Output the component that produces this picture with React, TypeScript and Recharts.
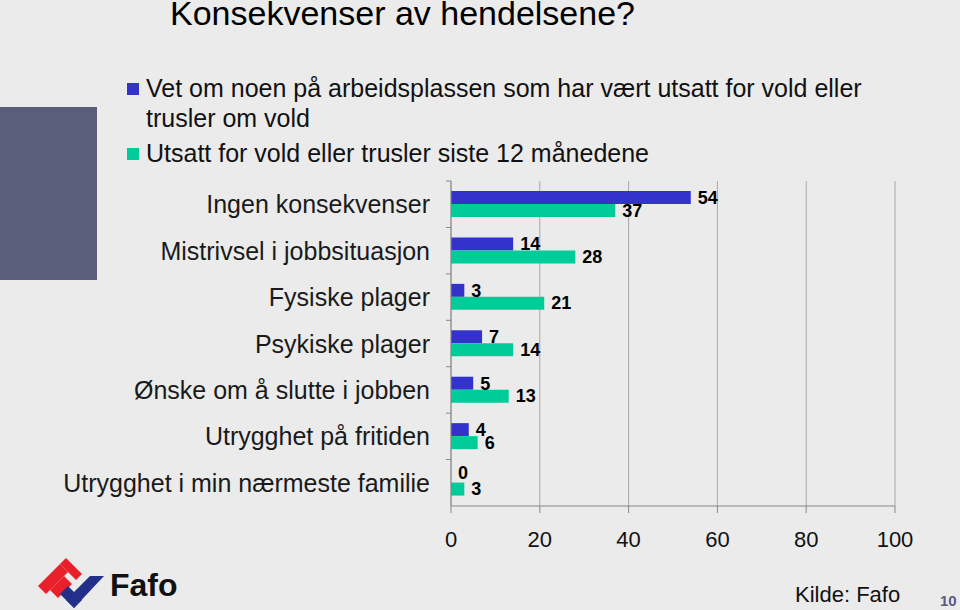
import { BarChart, Bar, XAxis, YAxis, CartesianGrid, LabelList } from 'recharts'

const categories = [
    'Ingen konsekvenser',
    'Mistrivsel i jobbsituasjon',
    'Fysiske plager',
    'Psykiske plager',
    'Ønske om å slutte i jobben',
    'Utrygghet på fritiden',
    'Utrygghet i min nærmeste familie',
]
const kjennerNoen = [54, 14, 3, 7, 5, 4, 0]
const utsattSelv = [37, 28, 21, 14, 13, 6, 3]
const xTicks = [0, 20, 40, 60, 80, 100]

const data = categories.map((name, i) => ({ name, kjenner: kjennerNoen[i], utsatt: utsattSelv[i] }))

const FONT = '"Liberation Sans", Arial, sans-serif'
const BLUE = '#3333cc'
const GREEN = '#00cc99'
const BG = '#ebebeb'

// plot box in page pixels
const PLOT_TOP = 181
const PLOT_BOTTOM = 506
const BAND = (PLOT_BOTTOM - PLOT_TOP) / categories.length
const BAR = 13

const CategoryTick = ({ x, y, payload }: any) => (
    <g>
        <line x1={451} x2={446} y1={y - BAND / 2} y2={y - BAND / 2} stroke="#888" />
        <text x={x} y={y} textAnchor="end" dominantBaseline="central" fontSize={25} fill="#1a1a1a" fontFamily={FONT}>
            {payload.value}
        </text>
    </g>
)

const labelStyle = { fontSize: 18, fontWeight: 'bold', fill: '#000', fontFamily: FONT }

// green labels; also puts the blue label when the blue bar is zero (recharts drops it)
const GreenLabel = (props: any) => {
    const { x, y, width, height, value, index } = props
    const blue = kjennerNoen[index]
    return (
        <g>
            <text x={x + width + 7} y={y + height / 2} dominantBaseline="central" {...labelStyle}>{value}</text>
            {blue === 0 && (
                <text x={x + 7} y={y - BAR / 2 - 3} dominantBaseline="central" {...labelStyle}>{blue}</text>
            )}
        </g>
    )
}

const Logo = () => (
    <svg width={160} height={52} style={{ position: 'absolute', left: 36, top: 558 }}>
        <polygon points="2,28 24,6 32,14 10,36" fill="#e8202a" />
        <polygon points="24,6 30,0 46,16 40,22" fill="#e8202a" />
        <polygon points="14,32 28,18 36,26 22,40" fill="#e8202a" />
        <polygon points="30,42 54,18 68,18 38,50" fill="#22308a" />
        <polygon points="24,36 32,28 46,42 38,50" fill="#22308a" />
        <text x={74} y={38} fontSize={32} fontWeight="bold" fontFamily={FONT} fill="#111">Fafo</text>
    </svg>
)

export default function App() {
    return (
        <div style={{ position: 'fixed', left: 0, top: 0, width: 960, height: 610, background: BG, overflow: 'hidden', fontFamily: FONT }}>
            <div style={{ position: 'absolute', left: 0, top: 107, width: 97, height: 173, background: '#5a5e7a' }} />
            <div style={{ position: 'absolute', left: 170, top: -6, fontSize: 34, color: '#000', whiteSpace: 'nowrap' }}>
                Konsekvenser av hendelsene?
            </div>
            <div style={{ position: 'absolute', left: 127, top: 73, fontSize: 25, color: '#111', lineHeight: '30px', whiteSpace: 'nowrap' }}>
                <div style={{ position: 'relative', paddingLeft: 19 }}>
                    <span style={{ position: 'absolute', left: 0, top: 10, width: 12, height: 12, background: BLUE }} />
                    Vet om noen på arbeidsplassen som har vært utsatt for vold eller
                    <br />
                    trusler om vold
                </div>
                <div style={{ position: 'relative', paddingLeft: 19, marginTop: 5 }}>
                    <span style={{ position: 'absolute', left: 0, top: 10, width: 12, height: 12, background: GREEN }} />
                    Utsatt for vold eller trusler siste 12 månedene
                </div>
            </div>
            <div style={{ position: 'absolute', left: 0, top: 0 }}>
                <BarChart
                    width={960}
                    height={610}
                    data={data}
                    layout="vertical"
                    barSize={BAR}
                    barGap={0}
                    margin={{ top: PLOT_TOP, right: 65, left: 0, bottom: 610 - PLOT_BOTTOM - 50 }}
                >
                    <CartesianGrid horizontal={false} stroke="#a8a8a8" />
                    <XAxis
                        type="number"
                        domain={[0, 100]}
                        ticks={xTicks}
                        height={50}
                        stroke="#888"
                        tickSize={7}
                        tickMargin={18}
                        tick={{ fontSize: 22, fill: '#111', fontFamily: FONT }}
                    />
                    <YAxis
                        type="category"
                        dataKey="name"
                        width={451}
                        stroke="#888"
                        tickLine={false}
                        tickSize={0}
                        tickMargin={21}
                        tick={<CategoryTick />}
                        interval={0}
                    />
                    <Bar dataKey="kjenner" fill={BLUE} isAnimationActive={false}>
                        <LabelList dataKey="kjenner" position="right" offset={7} {...labelStyle} />
                    </Bar>
                    <Bar dataKey="utsatt" fill={GREEN} isAnimationActive={false}>
                        <LabelList dataKey="utsatt" content={<GreenLabel />} />
                    </Bar>
                </BarChart>
            </div>
            <Logo />
            <div style={{ position: 'absolute', left: 795, top: 582, fontSize: 22, color: '#111' }}>Kilde: Fafo</div>
            <div style={{ position: 'absolute', left: 940, top: 592, fontSize: 15, fontWeight: 'bold', color: '#5a5a88' }}>10</div>
        </div>
    )
}
